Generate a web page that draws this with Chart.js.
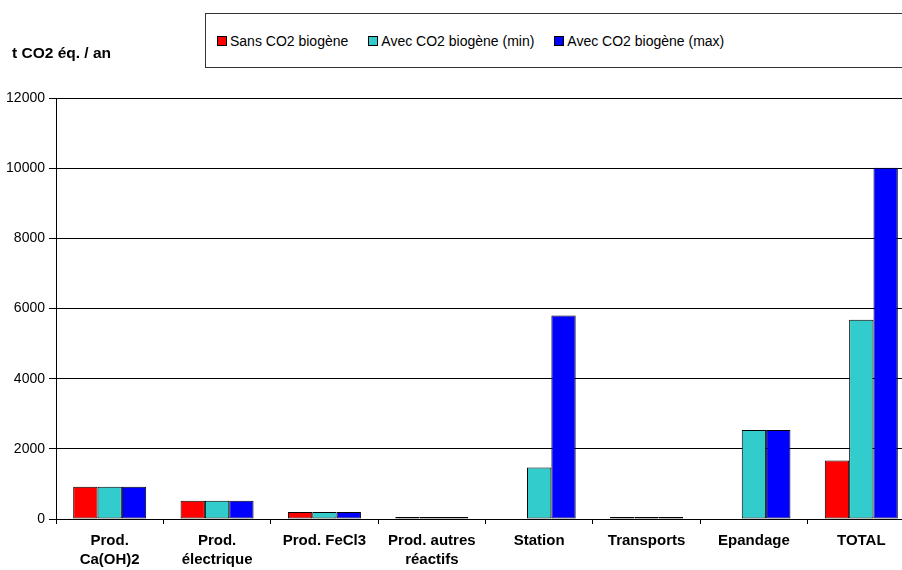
<!DOCTYPE html>
<html>
<head>
<meta charset="utf-8">
<script src="https://cdn.jsdelivr.net/npm/chart.js@4"></script>
<style>
  html, body { margin: 0; padding: 0; background: #fff; }
  body { width: 902px; height: 570px; overflow: hidden; position: relative; font-family: "Liberation Sans", Arial, sans-serif; }
  #wrap { position: absolute; left: 0; top: 0; width: 902px; height: 570px; overflow: hidden; }
  #y-title { position: absolute; left: 12px; top: 44px; font-size: 15.5px; font-weight: bold; color: #000; white-space: nowrap; }
  #legend { position: absolute; left: 205px; top: 13px; width: 740px; height: 55px; border: 1px solid #333; display: flex; align-items: center; padding-left: 11px; box-sizing: border-box; background: #fff; }
  .lg-item { display: flex; align-items: center; margin-right: 20px; font-size: 14px; color: #000; white-space: nowrap; }
  .lg-box { width: 8px; height: 8px; border: 1px solid #000; margin-right: 3px; }
</style>
</head>
<body>
<div id="wrap"><canvas id="chart" width="915" height="570"></canvas></div>
<div id="y-title">t CO2 éq. / an</div>
<div id="legend"></div>
<script>
// categories (multi-line labels as in the source sheet)
const categories = [
  ['Prod.', 'Ca(OH)2'],
  ['Prod.', 'électrique'],
  'Prod. FeCl3',
  ['Prod. autres', 'réactifs'],
  'Station',
  'Transports',
  'Epandage',
  'TOTAL',
];

const seriesNames = ['Sans CO2 biogène', 'Avec CO2 biogène (min)', 'Avec CO2 biogène (max)'];
const seriesColors = ['#ff0000', '#33cccc', '#0000ff'];

// t CO2 éq. / an
const sansBiogene = [920, 520, 200, 60, 0, 60, 0, 1670];
const avecMin = [920, 520, 200, 60, 1470, 60, 2540, 5680];
const avecMax = [920, 520, 200, 60, 5800, 60, 2540, 10010];

const yTicks = [0, 2000, 4000, 6000, 8000, 10000, 12000];

const seriesValues = [sansBiogene, avecMin, avecMax];

// legend (boxed, drawn as html)
const legendEl = document.getElementById('legend');
legendEl.innerHTML = seriesNames.map((name, i) =>
  `<div class="lg-item"><span class="lg-box" style="background:${seriesColors[i]}"></span>${name}</div>`
).join('');

new Chart(document.getElementById('chart'), {
  type: 'bar',
  data: {
    labels: categories,
    datasets: seriesNames.map((name, i) => ({
      label: name,
      data: seriesValues[i],
      backgroundColor: seriesColors[i],
      borderColor: '#000',
      borderWidth: 1,
      borderSkipped: false,
      categoryPercentage: 0.68,
      barPercentage: 1.0,
    })),
  },
  options: {
    responsive: false,
    animation: false,
    devicePixelRatio: 1,
    layout: { padding: { top: 98, left: 0, right: 0, bottom: 0 } },
    plugins: { legend: { display: false }, tooltip: { enabled: false } },
    scales: {
      x: {
        grid: { drawOnChartArea: false, drawTicks: true, tickLength: 5, color: '#000', offset: true },
        border: { color: '#000', width: 1 },
        ticks: {
          color: '#000',
          padding: 7,
          maxRotation: 0,
          autoSkip: false,
          font: { family: '"Liberation Sans", Arial, sans-serif', size: 15, weight: 'bold', lineHeight: 1.3 },
        },
        afterFit: s => { s.height = 51; },
      },
      y: {
        min: 0,
        max: 12000,
        afterBuildTicks: s => { s.ticks = yTicks.map(v => ({ value: v })); },
        grid: { color: '#000', lineWidth: 1, tickLength: 7 },
        border: { color: '#000', width: 1 },
        ticks: {
          color: '#000',
          padding: 4,
          callback: v => String(v),
          font: { family: '"Liberation Sans", Arial, sans-serif', size: 14 },
        },
        afterFit: s => { s.width = 56; },
      },
    },
  },
});
</script>
</body>
</html>
